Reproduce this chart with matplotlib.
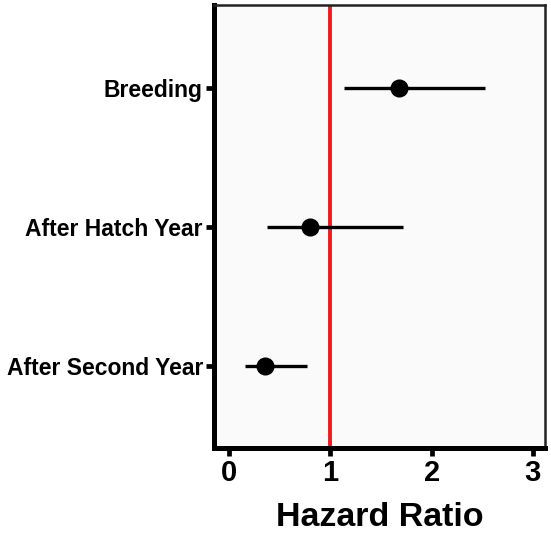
import numpy as np
import matplotlib.pyplot as plt

# --- data ---
groups = ['Breeding', 'After Hatch Year', 'After Second Year']
hr     = [1.68, 0.80, 0.35]
ci_lo  = [1.13, 0.37, 0.16]
ci_hi  = [2.53, 1.72, 0.77]
xticks = [0, 1, 2, 3]

plt.rcParams['font.family'] = ['Liberation Sans', 'DejaVu Sans']
plt.rcParams['font.weight'] = 'bold'

fig = plt.figure(figsize=(5.51, 5.34), dpi=100)
ax = fig.add_axes([214 / 551, 1 - 448 / 534, (545 - 214) / 551, (448 - 5) / 534])
ax.set_facecolor('#fafafa')

ypos = np.arange(len(groups))[::-1] + 1
hr = np.array(hr)
err = [hr - np.array(ci_lo), np.array(ci_hi) - hr]

ax.axvline(1, color='#ee1c1c', lw=2.8, zorder=1)
ax.errorbar(hr, ypos, xerr=err, fmt='o', color='black', ms=12,
            elinewidth=2.4, capsize=0, zorder=3)

ax.set_xlim(-0.15, 3.12)
ax.set_ylim(0.41, 3.6)
ax.set_xticks(xticks)
ax.set_yticks(ypos)
ax.set_yticklabels(groups, fontsize=16.5, fontweight='bold')
ax.set_xticklabels([str(t) for t in xticks], fontsize=21, fontweight='bold')
ax.set_xlabel('Hazard Ratio', fontsize=24.5, fontweight='bold', labelpad=11)

for s in ['left', 'bottom']:
    ax.spines[s].set_linewidth(3.6)
    ax.spines[s].set_color('black')
for s in ['top', 'right']:
    ax.spines[s].set_linewidth(1.8)
    ax.spines[s].set_color('#222222')

ax.tick_params(axis='both', width=3.4, length=6, color='black', pad=2)

plt.savefig('out.png', dpi=100)
